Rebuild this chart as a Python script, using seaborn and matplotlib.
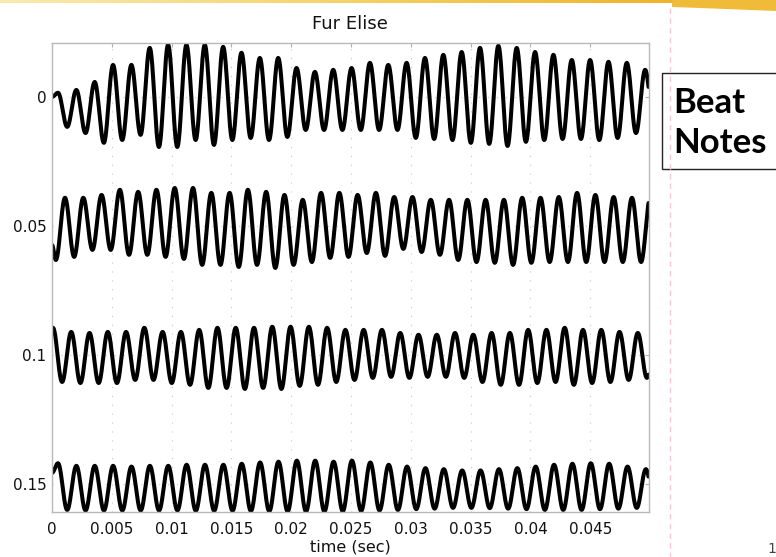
import numpy as np
import pandas as pd
import seaborn as sns
import matplotlib.pyplot as plt
from matplotlib.patches import Rectangle, Polygon
from matplotlib.colors import LinearSegmentedColormap

# strip offsets (y axis = start time of each 0.05 s strip)
strip_offsets = [0.0, 0.05, 0.10, 0.15]
y_ticks = [0.0, 0.05, 0.10, 0.15]
y_tick_labels = ["0", "0.05", "0.1", "0.15"]
x_ticks = [0, 0.005, 0.01, 0.015, 0.02, 0.025, 0.03, 0.035, 0.04, 0.045]
x_tick_labels = ["0", "0.005", "0.01", "0.015", "0.02", "0.025", "0.03", "0.035", "0.04", "0.045"]
XMAX = 0.04987
YLIM = (0.1609, -0.0209)

# peak / trough heights of every cycle (units of 1e-3)
strip0_peaks = [1.6, 2.7, 5.8, 12.4, 12.4, 19.0, 20.2, 20.2, 20.2, 19.4, 17.1, 15.1, 15.1, 11.2, 9.7, 10.5, 11.2,
                13.2, 12.4, 13.2, 15.1, 16.3, 17.4, 19.0, 19.8, 19.0, 17.4, 16.3, 14.3, 14.3, 13.6, 13.2, 10.5]
strip0_troughs = [-11.6, -14.0, -17.8, -16.7, -14.7, -19.4, -19.4, -16.7, -18.6, -16.7, -15.9, -16.7, -15.5, -12.8,
                  -12.8, -12.8, -12.8, -12.8, -12.8, -15.9, -16.3, -16.7, -17.8, -18.2, -19.0, -17.4, -16.7, -16.3,
                  -16.3, -16.7, -15.9, -14.0]
strip1_peaks = [10.9, 10.9, 12.0, 14.0, 13.2, 14.0, 14.7, 14.7, 12.8, 12.8, 14.0, 13.2, 12.0, 10.1, 12.8, 12.8,
                12.0, 12.8, 11.2, 11.2, 10.1, 10.1, 10.1, 10.1, 10.1, 10.9, 10.9, 11.2, 12.8, 12.0, 11.2, 10.9]
strip1_troughs = [-13.2, -12.0, -9.3, -9.3, -11.2, -11.2, -12.0, -12.8, -15.1, -15.1, -15.9, -15.1, -16.3, -15.1,
                  -14.0, -12.4, -12.0, -10.5, -11.6, -8.9, -10.1, -11.2, -13.2, -14.0, -14.3, -15.1, -14.3, -14.0,
                  -14.0, -14.0, -14.0, -14.0, -14.0]
strip2_peaks = [10.5, 8.9, 8.5, 8.9, 8.9, 10.5, 8.9, 8.9, 9.7, 10.5, 10.5, 10.5, 10.9, 10.9, 10.9, 10.5, 9.7,
                9.7, 9.7, 8.5, 7.8, 7.8, 8.5, 7.8, 8.5, 8.5, 9.7, 9.7, 10.5, 9.7, 9.7, 8.9, 8.5]
strip2_troughs = [-10.5, -10.9, -10.9, -10.9, -9.7, -9.7, -10.9, -11.6, -12.8, -12.8, -13.2, -12.8, -13.2, -12.0,
                  -11.6, -10.5, -9.7, -8.9, -8.5, -8.9, -8.5, -8.5, -8.9, -10.5, -11.6, -11.6, -10.9, -10.5,
                  -11.6, -10.9, -10.5, -9.7, -8.9]
strip3_peaks = [8.0, 7.0, 7.0, 7.0, 6.7, 7.0, 7.0, 7.4, 7.4, 7.4, 7.8, 8.3, 8.6, 9.0, 9.0, 8.6, 9.0, 8.3, 7.4,
                6.7, 6.1, 5.7, 5.2, 5.2, 5.7, 6.1, 6.7, 7.4, 7.8, 8.0, 7.8, 6.7, 5.7]
strip3_troughs = [-10.1, -10.3, -10.3, -10.3, -10.3, -10.3, -10.3, -10.4, -10.4, -10.4, -10.5, -10.6, -10.7,
                  -10.7, -10.7, -10.6, -10.5, -10.3, -10.1, -9.8, -9.6, -9.3, -9.3, -9.4, -9.6, -9.8, -10.1,
                  -10.1, -10.1, -9.8, -9.6, -9.3]

# timing of first extreme, cycle length, first extreme kind, start and end values
first_time = [0.000502, 0.000322, 0.00008, 0.000502]
cycle = [0.001534, 0.001529, 0.001528, 0.001536]
first_kind = ["peak", "trough", "peak", "peak"]
start_val = [0.0, -7.4, 10.0, 4.3]
end_val = [-12.0, 11.0, 9.0, -10.0]

peaks = [strip0_peaks, strip1_peaks, strip2_peaks, strip3_peaks]
troughs = [strip0_troughs, strip1_troughs, strip2_troughs, strip3_troughs]


def strip_curve(k, t):
    a, b = (peaks[k], troughs[k]) if first_kind[k] == "peak" else (troughs[k], peaks[k])
    vals = []
    for i in range(max(len(a), len(b))):
        if i < len(a):
            vals.append(a[i])
        if i < len(b):
            vals.append(b[i])
    kt = first_time[k] + np.arange(len(vals)) * cycle[k] / 2
    kt = np.concatenate([[0.0], kt, [kt[-1] + cycle[k] / 2]])
    kv = np.array([start_val[k]] + vals + [end_val[k]])
    i = np.clip(np.searchsorted(kt, t, side="right") - 1, 0, len(kt) - 2)
    u = (t - kt[i]) / (kt[i + 1] - kt[i])
    return kv[i] + (kv[i + 1] - kv[i]) * (1 - np.cos(np.pi * u)) / 2


frames = []
for k, off in enumerate(strip_offsets):
    t = np.linspace(0, XMAX, 3000)
    frames.append(pd.DataFrame({"t": t, "y": off - strip_curve(k, t) * 1e-3, "strip": k}))
df = pd.concat(frames, ignore_index=True)

sns.set_style("white")
plt.rcParams["font.family"] = ["DejaVu Sans"]

fig = plt.figure(figsize=(7.76, 5.57), dpi=100)

# slide background bits
bg = fig.add_axes([0, 0, 1, 1], zorder=-1)
bg.set_xlim(0, 776)
bg.set_ylim(557, 0)
bg.axis("off")
grad = np.linspace(0, 1, 256).reshape(1, -1)
band_cmap = LinearSegmentedColormap.from_list("band", ["#f8ebb0", "#f5d36a", "#f0b22a"])
bg.imshow(grad, extent=[0, 672, 3, 0], aspect="auto", cmap=band_cmap)
bg.add_patch(Polygon([(672, 0), (776, 0), (776, 11), (700, 8), (672, 7)], closed=True,
                     color="#f1bb3a", lw=0))
bg.plot([670, 670], [8, 557], color="#f7cad6", lw=1, ls=(0, (4, 3)))
bg.add_patch(Rectangle((662, 73), 130, 96, fill=False, ec="#222222", lw=1))
bg.text(673, 113, "Beat", fontsize=25, fontweight="bold", family=["Lato", "DejaVu Sans"],
        va="baseline", color="black")
bg.text(673, 153, "Notes", fontsize=25, fontweight="bold", family=["Lato", "DejaVu Sans"],
        va="baseline", color="black")
bg.text(767, 549, "1", fontsize=10, color="#444444", va="center")

ax = fig.add_axes([52 / 776, 1 - 512 / 557, (648.5 - 52) / 776, (512 - 43) / 557])
sns.lineplot(data=df, x="t", y="y", units="strip", estimator=None, sort=False,
             color="black", lw=2.9, ax=ax, legend=False)

ax.set_xlim(0, XMAX)
ax.set_ylim(*YLIM)
ax.set_xticks(x_ticks)
ax.set_xticklabels(x_tick_labels)
ax.set_yticks(y_ticks)
ax.set_yticklabels(y_tick_labels)
ax.grid(True, color="#c8c8c8", lw=0.8, ls=(0, (1, 7)))
ax.tick_params(direction="in", top=True, right=True, length=3, color="#b0b0b0",
               labelsize=11, labelcolor="#111111")
ax.tick_params(axis="x", pad=7)
ax.tick_params(axis="y", pad=4)
for s in ax.spines.values():
    s.set_color("#b8b8b8")
    s.set_linewidth(1)
ax.set_title("Fur Elise", fontsize=13, pad=10, color="#111111")
ax.set_xlabel("time (sec)", fontsize=11.5, labelpad=2, color="#111111")
ax.set_ylabel("")

fig.savefig("out.png", dpi=100)
